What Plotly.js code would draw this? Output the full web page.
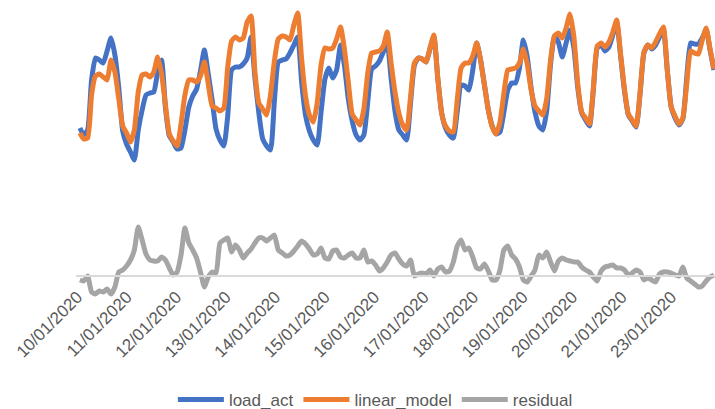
<!DOCTYPE html>
<html>
<head>
<meta charset="utf-8">
<script src="https://cdn.plot.ly/plotly-3.0.1.min.js"></script>
<style>html,body{margin:0;padding:0;background:#fff;}#chart{width:715px;height:409px;}</style>
</head>
<body>
<div id="chart"></div>
<script>
// Two-hourly samples (arbitrary units)
const load_act = [
147,140,145,195,217,215,212,224,237,220,
187,144,131,123,115,145,165,180,182,183,
203,215,167,139,133,126,127,145,168,179,
186,204,225,201,175,146,135,129,159,205,
208,208,211,217,238,197,162,136,129,125,
174,213,215,216,222,230,238,193,160,144,
135,130,163,196,207,197,205,230,210,176,
154,140,135,140,173,206,209,214,223,232,
197,164,145,140,135,172,210,217,216,213,
226,238,197,162,147,140,137,163,190,189,
185,205,232,215,190,165,149,141,143,163,
185,192,192,207,235,218,187,163,149,145,
164,211,239,233,218,232,245,227,187,162,
155,149,185,227,230,224,228,240,253,219,
184,160,154,148,181,222,230,226,230,238,
245,205,168,157,150,156,197,232,231,231,
237,245,225,205
];
const linear_model = [
142,136,137,180,199,201,198,195,215,203,
176,149,142,133,145,183,200,201,198,203,
218,201,170,141,134,129,151,180,195,195,
193,199,213,191,169,167,164,167,208,234,
238,235,237,253,259,203,172,166,160,180,
214,236,239,238,235,250,262,216,179,160,
153,172,210,227,226,227,236,248,226,193,
161,155,150,166,202,222,223,224,229,243,
212,183,162,150,145,178,212,217,216,213,
227,240,197,162,149,144,143,175,207,212,
212,219,232,215,190,165,148,141,153,182,
205,206,207,212,226,211,185,169,164,160,
176,215,239,242,237,247,261,238,191,163,
157,151,187,229,232,228,233,243,255,221,
186,161,155,149,182,223,230,227,233,241,
248,205,168,159,151,157,191,224,222,221,
235,247,226,206
];
const residual = [
-5,-6,-1,-17,-19,-16,-17,-14,-19,-12,
3,5,9,15,25,48,35,21,15,14,
14,18,15,7,0,3,20,47,32,25,
17,3,-12,-2,3,2,32,35,37,23,
30,25,17,22,26,32,37,37,34,37,
40,25,22,19,20,24,29,34,31,26,
20,21,27,17,16,24,25,18,17,20,
22,17,17,25,13,14,10,4,7,13,
20,22,16,11,9,15,-1,1,2,1,
5,-1,6,8,3,4,13,29,35,25,
27,18,7,6,11,4,-5,-5,5,25,
29,20,16,8,-5,-7,-1,5,20,17,
23,13,4,14,17,15,14,13,13,8,
5,3,-2,-6,4,8,9,10,7,7,
5,0,2,5,3,-5,-3,-5,-7,1,
3,3,2,0,-1,8,-3,-6,-9,-12,
-11,-6,-2,0
];
const tickLabels = ['10/01/2020','11/01/2020','12/01/2020','13/01/2020','14/01/2020','15/01/2020','16/01/2020','17/01/2020','18/01/2020','19/01/2020','20/01/2020','21/01/2020','23/01/2020'];
const tickStart = -0.6, tickStep = 12.72;

const xs = load_act.map((_, i) => i);
const tickvals = tickLabels.map((_, k) => tickStart + k * tickStep);
const font = {family: '"Liberation Sans", Arial, sans-serif', size: 17, color: '#595959'};
const lineStyle = (c) => ({color: c, width: 5, shape: 'spline', smoothing: 0.5});

const traces = [
  {x: xs, y: load_act, name: 'load_act', type: 'scatter', mode: 'lines', line: lineStyle('#4472C4')},
  {x: xs, y: linear_model, name: 'linear_model', type: 'scatter', mode: 'lines', line: lineStyle('#ED7D31')},
  {x: xs, y: residual, name: 'residual', type: 'scatter', mode: 'lines', line: lineStyle('#A5A5A5')}
];
const layout = {
  width: 715, height: 409,
  margin: {l: 76, r: 0, t: 5, b: 100},
  paper_bgcolor: '#fff', plot_bgcolor: '#fff',
  font: font,
  showlegend: true,
  legend: {orientation: 'h', xref: 'container', yref: 'container', x: 0.525, y: 0.022, xanchor: 'center', yanchor: 'middle', font: font, itemwidth: 46},
  xaxis: {
    range: [-1, 163.27], anchor: 'free', position: 0.1118,
    showline: true, linecolor: '#D9D9D9', linewidth: 1.5,
    showgrid: false, zeroline: false, ticks: '', ticklabelstandoff: 4,
    tickmode: 'array', tickvals: tickvals, ticktext: tickLabels, tickangle: -45,
    tickfont: font
  },
  yaxis: {range: [-34, 270], showticklabels: false, showgrid: false, zeroline: false, showline: false, ticks: ''}
};
Plotly.newPlot('chart', traces, layout, {displayModeBar: false, staticPlot: true});
</script>
</body>
</html>
